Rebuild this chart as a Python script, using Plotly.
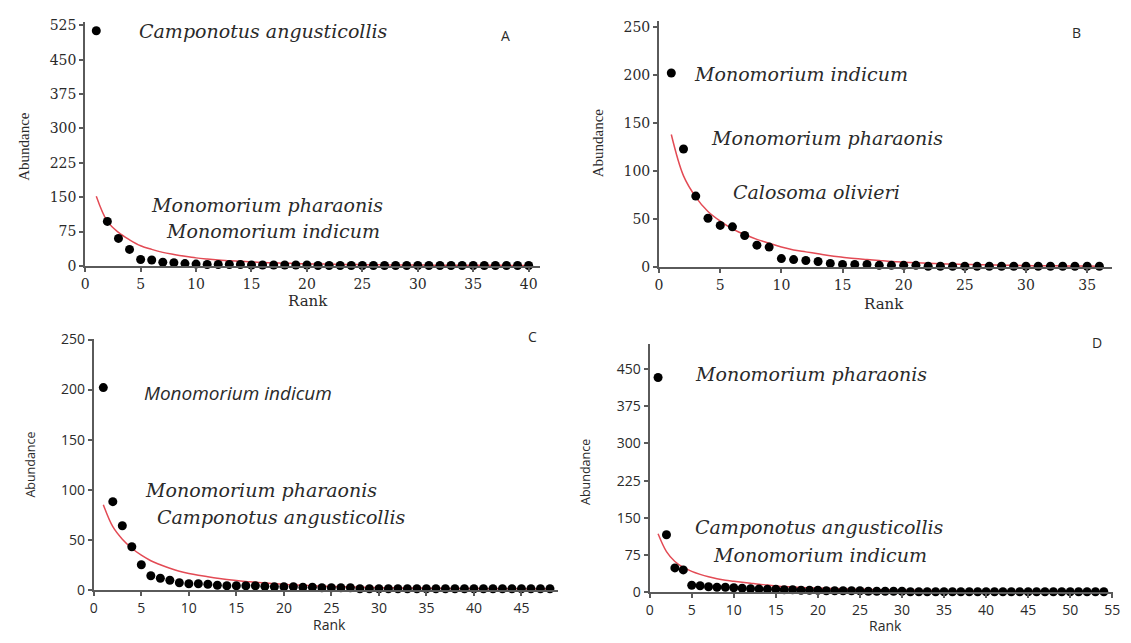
import plotly.graph_objects as go

W, H = 1131, 643

# ---------------- data ----------------
rank_A = list(range(1, 41))
abund_A = [513, 97, 60, 36, 14, 13, 8, 7, 5, 4, 3, 3, 3, 3, 2, 2, 2, 2, 2, 2,
           1, 1, 1, 1, 1, 1, 1, 1, 1, 1, 1, 1, 1, 1, 1, 1, 1, 1, 1, 1]
fit_A = [152, 97, 73, 57, 44, 36, 29.5, 25, 21, 17.5, 15, 13, 11.5, 10, 8.6, 7.6, 6.7, 5.9, 5.2, 4.6,
         4.1, 3.7, 3.3, 3.0, 2.7, 2.5, 2.3, 2.1, 1.9, 1.8, 1.7, 1.6, 1.5, 1.4, 1.3, 1.2, 1.2, 1.1, 1.1, 1.0]

rank_B = list(range(1, 37))
abund_B = [202, 123, 74, 51, 43.5, 42, 33, 23, 21, 9, 8, 7, 6, 4, 3, 3, 3, 2, 2, 2, 2,
           1, 1, 1, 1, 1, 1, 1, 1, 1, 1, 1, 1, 1, 1, 1]
fit_B = [138, 95, 73, 58, 48, 40, 34, 29, 25, 21, 18, 16, 14, 12, 10.5, 9, 8, 7, 6, 5.3,
         4.7, 4.2, 3.7, 3.3, 3, 2.7, 2.4, 2.2, 2.0, 1.8, 1.6, 1.5, 1.4, 1.3, 1.2, 1.1]

rank_C = list(range(1, 49))
abund_C = [202, 88, 64, 43, 25, 14, 11.5, 9.5, 7, 6, 6, 5.5, 4.5, 4, 4, 4, 4, 3.5, 3, 3,
           3, 2.5, 2.5, 2, 2, 2, 2, 1, 1, 1, 1, 1, 1, 1, 1, 1, 1, 1, 1, 1, 1, 1, 1, 1, 1, 1, 1, 1]
fit_C = [85, 63, 50.5, 41.5, 34.5, 29, 25, 21.5, 18.5, 16.3, 14.5, 13, 11.6, 10.3, 9.2, 8.3, 7.4, 6.7, 6, 5.4,
         4.9, 4.4, 4.0, 3.6, 3.3, 3.0, 2.8, 2.6, 2.4, 2.2, 2.0, 1.9, 1.8, 1.7, 1.6, 1.5, 1.4, 1.3, 1.2, 1.2,
         1.1, 1.0, 1.0, 0.9, 0.9, 0.8, 0.8, 0.8]

rank_D = list(range(1, 55))
abund_D = [433, 116, 49, 45, 14, 13, 11, 10, 10, 9, 8, 7, 6.5, 6, 6, 5, 5, 4, 4, 4,
           3, 3, 3, 3, 3, 2, 2, 2, 2, 2, 1, 1, 1, 1, 1, 1, 1, 1, 1, 1, 1, 1, 1, 1, 1, 1, 1, 1, 1, 1, 1, 1, 1, 1]
fit_D = [118, 82, 62, 50, 42, 36, 31, 27, 24, 22, 20, 18, 16, 14.5, 12.4, 11.3, 10.3, 9.4, 8.9, 8.5,
         7.9, 7.3, 6.8, 6.4, 6.0, 5.5, 5.0, 4.6, 4.3, 4.0, 3.8, 3.6, 3.4, 3.2, 3.0, 2.9, 2.8, 2.7, 2.6, 2.5,
         2.4, 2.3, 2.2, 2.1, 2.0, 1.9, 1.9, 1.8, 1.8, 1.7, 1.7, 1.6, 1.6, 1.5]

panel_letters = ["A", "B", "C", "D"]
labels_A = ["Camponotus angusticollis", "Monomorium pharaonis", "Monomorium indicum"]
labels_B = ["Monomorium indicum", "Monomorium pharaonis", "Calosoma olivieri"]
labels_C = ["Monomorium indicum", "Monomorium pharaonis", "Camponotus angusticollis"]
labels_D = ["Monomorium pharaonis", "Camponotus angusticollis", "Monomorium indicum"]

yticks_A = [0, 75, 150, 225, 300, 375, 450, 525]
yticks_B = [0, 50, 100, 150, 200, 250]
yticks_C = [0, 50, 100, 150, 200, 250]
yticks_D = [0, 75, 150, 225, 300, 375, 450]

# ---------------- figure ----------------
fig = go.Figure()

def dx(l, r):
    return [l / W, r / W]

def dy(top, bottom):
    return [1 - bottom / H, 1 - top / H]

def px(x):
    return x / W

def py(y):
    return 1 - y / H

SERIF = "DejaVu Serif"
SANS = "Open Sans"
TXT = "#2a2a2a"
AX = "#5a5a5a"
RED = "#e34b55"

panels = [
    # suffix, ranks, abund, fit, xdom, ydom, xrange, yrange, yticks, tickfont, ticksize
    ("", rank_A, abund_A, fit_A, dx(82, 541), dy(13.4, 264.3), [0, 41.0], [0, 532], yticks_A, SERIF, 14),
    ("2", rank_B, abund_B, fit_B, dx(661.5, 1118.5), dy(11.9, 265.7), [0, 37.0], [0, 256.5], yticks_B, SERIF, 14),
    ("3", rank_C, abund_C, fit_C, dx(90.7, 559), dy(339, 597.5), [0, 48.8], [0, 251], yticks_C, SANS, 14),
    ("4", rank_D, abund_D, fit_D, dx(652, 1120), dy(345, 600), [0, 55.1], [0, 500], yticks_D, SANS, 14),
]

for suf, r, a, f, xd, yd, xr, yr, yt, tf, ts in panels:
    fig.add_trace(go.Scatter(x=r, y=f, mode="lines", line=dict(color=RED, width=1.5, shape="spline"),
                             xaxis="x" + suf, yaxis="y" + suf, showlegend=False, hoverinfo="skip"))
    fig.add_trace(go.Scatter(x=r, y=a, mode="markers", marker=dict(color="black", size=9),
                             xaxis="x" + suf, yaxis="y" + suf, showlegend=False, cliponaxis=False))
    fig.layout["xaxis" + suf] = dict(
        domain=xd, range=xr, anchor="y" + suf, dtick=5, tick0=0,
        showline=True, linecolor=AX, linewidth=2, ticks="outside", ticklen=4, tickwidth=1.5,
        tickcolor=AX, showgrid=False, zeroline=False,
        tickfont=dict(family=tf, size=ts, color=TXT),
    )
    fig.layout["yaxis" + suf] = dict(
        domain=yd, range=yr, anchor="x" + suf, tickvals=yt,
        showline=True, linecolor=AX, linewidth=2, ticks="outside", ticklen=4, tickwidth=1.5,
        tickcolor=AX, showgrid=False, zeroline=False,
        tickfont=dict(family=tf, size=ts, color=TXT),
    )

annotations = []

def ann(text, x, y, family, size, italic=False, angle=0):
    annotations.append(dict(
        text=text, x=px(x), y=py(y), xref="paper", yref="paper", showarrow=False,
        xanchor="center", yanchor="middle", textangle=angle,
        font=dict(family=family, size=size, color=TXT, style="italic" if italic else "normal"),
    ))

# axis titles
ann("Abundance", 20, 141, "Liberation Serif", 15, angle=-90)
ann("Rank", 307, 300, SERIF, 15)
ann("Abundance", 600, 138, "Liberation Serif", 15, angle=-90)
ann("Rank", 889, 303, SERIF, 15)
ann("Abundance", 27, 469, SANS, 12.5, angle=-90)
ann("Rank", 329, 633, SANS, 14)
ann("Abundance", 587, 476, SANS, 12.5, angle=-90)
ann("Rank", 890, 634, SANS, 14)

# panel letters
ann(panel_letters[0], 506, 27, SANS, 14)
ann(panel_letters[1], 1083, 24, SANS, 14)
ann(panel_letters[2], 534, 337, SANS, 14)
ann(panel_letters[3], 1104, 343, SANS, 14)

# species labels
ann(labels_A[0], 262, 23, SERIF, 19, italic=True)
ann(labels_A[1], 266, 202, SERIF, 19, italic=True)
ann(labels_A[2], 272, 228, SERIF, 19, italic=True)

ann(labels_B[0], 805, 67, SERIF, 19, italic=True)
ann(labels_B[1], 831, 133, SERIF, 19, italic=True)
ann(labels_B[2], 820, 188, SERIF, 19, italic=True)

ann(labels_C[0], 236, 395, SANS, 19, italic=True)
ann(labels_C[1], 260, 495, SERIF, 19, italic=True)
ann(labels_C[2], 280, 523, SERIF, 19, italic=True)

ann(labels_D[0], 815, 375, SERIF, 19, italic=True)
ann(labels_D[1], 824, 533, SERIF, 19, italic=True)
ann(labels_D[2], 824, 562, SERIF, 19, italic=True)

fig.update_layout(
    width=W, height=H, margin=dict(l=0, r=0, t=0, b=0),
    paper_bgcolor="white", plot_bgcolor="white",
    annotations=annotations, showlegend=False,
)

fig.write_html("out.html", config={"displayModeBar": False},
               post_script="document.body.style.margin='0';")
